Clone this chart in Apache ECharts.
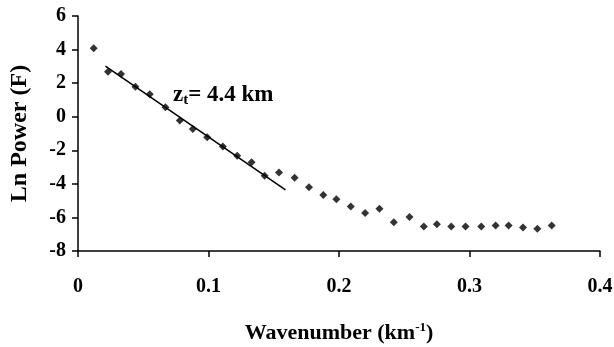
<!DOCTYPE html>
<html>
<head>
<meta charset="utf-8">
<script src="https://cdn.jsdelivr.net/npm/echarts@6/dist/echarts.min.js"></script>
<style>
  html, body { margin: 0; padding: 0; background: #fff; }
  #chart { width: 614px; height: 347px; }
</style>
</head>
<body>
<div id="chart"></div>
<script>
// wavenumber (km^-1) and ln power
var wavenumber = [0.012, 0.023, 0.033, 0.044, 0.055, 0.067, 0.078, 0.088, 0.099, 0.111,
  0.122, 0.133, 0.143, 0.154, 0.166, 0.177, 0.188, 0.198, 0.209, 0.220, 0.231,
  0.242, 0.254, 0.265, 0.275, 0.286, 0.297, 0.309, 0.320, 0.330, 0.341, 0.352, 0.363];
var lnPower = [4.08, 2.68, 2.55, 1.79, 1.34, 0.57, -0.23, -0.73, -1.22, -1.78,
  -2.33, -2.71, -3.51, -3.32, -3.63, -4.20, -4.67, -4.92, -5.35, -5.74, -5.49,
  -6.28, -5.98, -6.54, -6.40, -6.54, -6.54, -6.54, -6.48, -6.48, -6.60, -6.68, -6.48];
// straight fit: end points
var fitX = [0.021, 0.159];
var fitY = [3.02, -4.36];

var serif = '"Liberation Serif", "Times New Roman", serif';

var chart = echarts.init(document.getElementById('chart'));

var points = wavenumber.map(function (x, i) { return [x, lnPower[i]]; });
var fit = fitX.map(function (x, i) { return [x, fitY[i]]; });

var option = {
  animation: false,
  grid: { left: 78, right: 14, top: 16, bottom: 96, outerBoundsMode: 'none', containLabel: false },
  xAxis: {
    type: 'value',
    min: 0, max: 0.4, interval: 0.1,
    name: '{a|Wavenumber (km}{s|-1}{a|)}',
    nameLocation: 'middle',
    nameGap: 70,
    nameTextStyle: {
      rich: {
        a: { fontFamily: serif, fontWeight: 'bold', fontSize: 22, color: '#000' },
        s: { fontFamily: serif, fontWeight: 'bold', fontSize: 13, color: '#000', verticalAlign: 'top', padding: [0, 0, 12, 0] }
      }
    },
    axisLine: { onZero: false, lineStyle: { color: '#000', width: 1.5 } },
    axisTick: { inside: false, length: 6, lineStyle: { color: '#000', width: 1.5 } },
    axisLabel: { fontFamily: serif, fontWeight: 'bold', fontSize: 20, color: '#000', margin: 26 },
    splitLine: { show: false }
  },
  yAxis: {
    type: 'value',
    min: -8, max: 6, interval: 2,
    name: 'Ln Power (F)',
    nameLocation: 'middle',
    nameGap: 46,
    nameTextStyle: { fontFamily: serif, fontWeight: 'bold', fontSize: 24, color: '#000' },
    axisLine: { onZero: false, lineStyle: { color: '#000', width: 1.5 } },
    axisTick: { inside: false, length: 6, lineStyle: { color: '#000', width: 1.5 } },
    axisLabel: { fontFamily: serif, fontWeight: 'bold', fontSize: 20, color: '#000', margin: 12 },
    splitLine: { show: false }
  },
  graphic: [{
    type: 'text',
    left: 173,
    top: 84,
    style: {
      text: '{z|z}{t|t}{n|= 4.4 km}',
      rich: {
        z: { fontFamily: serif, fontWeight: 'bold', fontSize: 23, color: '#000' },
        t: { fontFamily: serif, fontWeight: 'bold', fontSize: 15, color: '#000', verticalAlign: 'bottom', padding: [9, 0, 0, 0] },
        n: { fontFamily: serif, fontWeight: 'bold', fontSize: 23, color: '#000' }
      }
    }
  }],
  series: [
    {
      type: 'line',
      data: fit,
      symbol: 'none',
      lineStyle: { color: '#000', width: 1.5 },
      z: 1
    },
    {
      type: 'scatter',
      data: points,
      symbol: 'diamond',
      symbolSize: 8,
      itemStyle: { color: '#000' },
      z: 2
    }
  ]
};

chart.setOption(option);
</script>
</body>
</html>
